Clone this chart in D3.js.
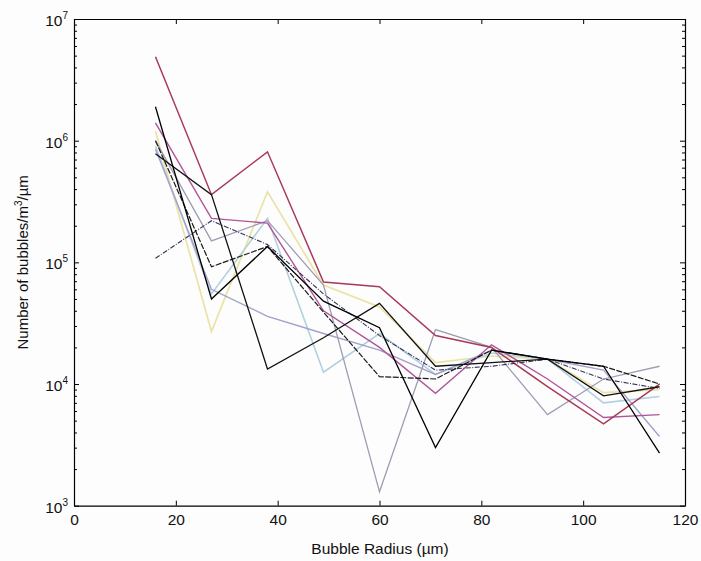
<!DOCTYPE html>
<html>
<head>
<meta charset="utf-8">
<script src="https://cdn.jsdelivr.net/npm/d3@7"></script>
<style>
  html, body { margin: 0; padding: 0; background: #fdfdfd; }
  svg { display: block; font-family: "Liberation Sans", Arial, sans-serif; }
</style>
</head>
<body>
<svg id="chart" width="701" height="561"></svg>
<script>
// Bubble size distributions: number density per radius bin, one run per line
const radius = [16, 27, 38, 49, 60, 71, 82, 93, 104, 115];

const runCrimson  = [4.9e6, 3.6e5, 8.1e5, 6.9e4, 6.3e4, 2.5e4, 2.0e4, 9.5e3, 4.7e3, 1.0e4];
const runMagenta  = [1.4e6, 2.3e5, 2.1e5, 4.0e4, 2.0e4, 8.4e3, 2.1e4, 1.1e4, 5.3e3, 5.6e3];
const runYellow   = [1.2e6, 2.7e4, 3.8e5, 6.5e4, 4.3e4, 1.5e4, 1.7e4, 1.6e4, 8.5e3, 9.0e3];
const runSky      = [9.0e5, 5.5e4, 2.3e5, 1.25e4, 2.6e4, 1.2e4, 1.8e4, 1.6e4, 7.0e3, 7.9e3];
const runLavender = [8.5e5, 6.0e4, 3.6e4, 2.6e4, 1.9e4, 1.2e4, 1.9e4, 1.6e4, 1.3e4, 3.7e3];
const runGrey     = [1.0e6, 1.5e5, 2.2e5, 6.5e4, 1.3e3, 2.8e4, 2.0e4, 5.6e3, 1.1e4, 1.4e4];
const runBlackA   = [1.9e6, 5.0e4, 1.35e5, 4.8e4, 2.9e4, 3.0e3, 1.9e4, 1.6e4, 1.4e4, 2.7e3];
const runBlackB   = [7.8e5, 3.6e5, 1.33e4, 2.4e4, 4.6e4, 1.4e4, 1.5e4, 1.6e4, 8.0e3, 9.5e3];
const runBlackC   = [1.0e6, 9.2e4, 1.35e5, 3.9e4, 1.15e4, 1.1e4, 1.9e4, 1.6e4, 1.4e4, 1.0e4];
const runNavy     = [1.08e5, 2.2e5, 1.4e5, 5.5e4, 2.5e4, 1.3e4, 1.4e4, 1.6e4, 1.1e4, 9.2e3];

const runs = [
  { values: runYellow,   color: "#ebe2a6", width: 1.7, dash: null },
  { values: runSky,      color: "#b3d0e0", width: 1.6, dash: null },
  { values: runLavender, color: "#a3a2c8", width: 1.4, dash: null },
  { values: runGrey,     color: "#9d9db4", width: 1.3, dash: null },
  { values: runMagenta,  color: "#b0569a", width: 1.4, dash: null },
  { values: runCrimson,  color: "#a83a5a", width: 1.5, dash: null },
  { values: runNavy,     color: "#34345a", width: 1.1, dash: "5,1.5,1,1.5" },
  { values: runBlackC,   color: "#1a1a1a", width: 1.2, dash: "6,1.5" },
  { values: runBlackB,   color: "#111111", width: 1.3, dash: null },
  { values: runBlackA,   color: "#000000", width: 1.3, dash: null }
];

const xTicks = [0, 20, 40, 60, 80, 100, 120];
const yDecades = [3, 4, 5, 6, 7];

const xLabel = "Bubble Radius (µm)";

const svg = d3.select("#chart");
const plotLeft = 74, plotRight = 685, plotTop = 19, plotBottom = 505.7;
const labelSize = 15.5;

const x = d3.scaleLinear().domain([0, 120]).range([plotLeft, plotRight]);
const y = d3.scaleLog().domain([1e3, 1e7]).range([plotBottom, plotTop]);

const majorY = yDecades.map(e => Math.pow(10, e));
const minorY = [];
for (let e = 3; e < 7; e++) for (let m = 2; m <= 9; m++) minorY.push(m * Math.pow(10, e));

// series lines
const line = d3.line().x((d, i) => x(radius[i])).y(d => y(d));
const plot = svg.append("g");
runs.forEach(r => {
  plot.append("path")
    .datum(r.values)
    .attr("d", line)
    .attr("fill", "none")
    .attr("stroke", r.color)
    .attr("stroke-width", r.width)
    .attr("stroke-linejoin", "miter")
    .attr("stroke-dasharray", r.dash);
});

function styleAxis(g) {
  g.select(".domain").attr("stroke", "#000").attr("stroke-width", 1.2);
  g.selectAll(".tick line").attr("stroke", "#000").attr("stroke-width", 1);
  g.selectAll("text").attr("fill", "#111").attr("font-size", labelSize);
}

// bottom and top x axes, ticks pointing inward
svg.append("g").attr("transform", `translate(0,${plotBottom})`)
  .call(d3.axisBottom(x).tickValues(xTicks).tickSizeInner(-5).tickSizeOuter(0).tickPadding(8)
    .tickFormat(d3.format("d")))
  .call(styleAxis);
svg.append("g").attr("transform", `translate(0,${plotTop})`)
  .call(d3.axisTop(x).tickValues(xTicks).tickSizeInner(-5).tickSizeOuter(0).tickFormat(""))
  .call(styleAxis);

// left and right log axes: major and minor ticks inward
svg.append("g").attr("transform", `translate(${plotLeft},0)`)
  .call(d3.axisLeft(y).tickValues(majorY).tickSizeInner(-5).tickSizeOuter(0).tickFormat(""))
  .call(styleAxis);
svg.append("g").attr("transform", `translate(${plotLeft},0)`)
  .call(d3.axisLeft(y).tickValues(minorY).tickSizeInner(-3).tickSizeOuter(0).tickFormat(""))
  .call(styleAxis).call(g => g.select(".domain").remove());
svg.append("g").attr("transform", `translate(${plotRight},0)`)
  .call(d3.axisRight(y).tickValues(majorY).tickSizeInner(-5).tickSizeOuter(0).tickFormat(""))
  .call(styleAxis);
svg.append("g").attr("transform", `translate(${plotRight},0)`)
  .call(d3.axisRight(y).tickValues(minorY).tickSizeInner(-3).tickSizeOuter(0).tickFormat(""))
  .call(styleAxis).call(g => g.select(".domain").remove());

// power-of-ten labels with superscript exponents
const yLab = svg.append("g").attr("font-size", labelSize).attr("fill", "#111");
yDecades.forEach(e => {
  const t = yLab.append("text")
    .attr("x", plotLeft - 6)
    .attr("y", y(Math.pow(10, e)) + 7)
    .attr("text-anchor", "end");
  t.append("tspan").text("10");
  t.append("tspan").attr("font-size", 10).attr("dy", -7).text(String(e));
});

// axis titles
svg.append("text")
  .attr("x", 380)
  .attr("y", 554)
  .attr("text-anchor", "middle")
  .attr("font-size", labelSize)
  .attr("fill", "#111")
  .text(xLabel);

const yt = svg.append("text")
  .attr("transform", `translate(28,${(plotTop + plotBottom) / 2}) rotate(-90)`)
  .attr("text-anchor", "middle")
  .attr("font-size", 15)
  .attr("fill", "#111");
yt.append("tspan").text("Number of bubbles/m");
yt.append("tspan").attr("font-size", 10).attr("dy", -6).text("3");
yt.append("tspan").attr("dy", 6).text("/µm");
</script>
</body>
</html>
